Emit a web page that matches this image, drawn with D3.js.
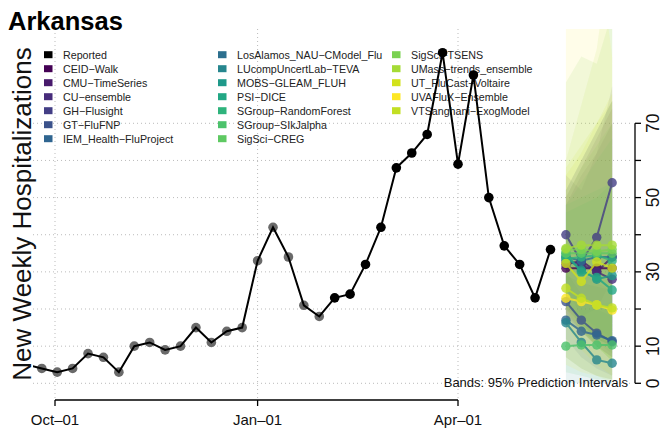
<!DOCTYPE html>
<html>
<head>
  <meta charset="utf-8">
  <title>Arkansas</title>
  <style type="text/css">
	body{
		margin:0;
		background:#fff;
	}
	text{
		font-family:"Liberation Sans", Arial, sans-serif;
	}
  </style>
</head>
<body>
<div id="chartContainer"></div>

<script src="https://d3js.org/d3.v7.min.js"></script>
<script type="text/javascript">
// reported weekly hospitalizations
var weeks = ["2023-09-18","2023-09-25","2023-10-02","2023-10-09","2023-10-16","2023-10-23","2023-10-30",
  "2023-11-06","2023-11-13","2023-11-20","2023-11-27","2023-12-04","2023-12-11","2023-12-18","2023-12-25",
  "2024-01-01","2024-01-08","2024-01-15","2024-01-22","2024-01-29","2024-02-05","2024-02-12","2024-02-19",
  "2024-02-26","2024-03-04","2024-03-11","2024-03-18","2024-03-25","2024-04-01","2024-04-08","2024-04-15",
  "2024-04-22","2024-04-29","2024-05-06","2024-05-13"];
var reported = [5,4,3,4,8,7,3,10,11,9,10,15,11,14,15,33,42,34,21,18,23,24,32,42,58,62,67,89,59,83,50,37,32,23,36];
var oldUntil = "2024-01-29";

// forecasts
var fcWeeks = ["2024-05-20","2024-05-27","2024-06-03","2024-06-10"];
var models = ["CEID\u2212Walk","CMU\u2212TimeSeries","CU\u2212ensemble","GH\u2212Flusight","GT\u2212FluFNP",
  "IEM_Health\u2212FluProject","LosAlamos_NAU\u2212CModel_Flu","LUcompUncertLab\u2212TEVA","MOBS\u2212GLEAM_FLUH",
  "PSI\u2212DICE","SGroup\u2212RandomForest","SGroup\u2212SIkJalpha","SigSci\u2212CREG","SigSci\u2212TSENS",
  "UMass\u2212trends_ensemble","UT_FluCast\u2212Voltaire","UVAFluX\u2212Ensemble","VTSanghani\u2212ExogModel"];
var colors = ["#440154","#481a6c","#472c7b","#433e85","#3b528b","#2f6590","#2c6f8e","#26868e","#1f998a",
  "#22a784","#2eb37c","#4cc26c","#5ec962","#7ad151","#a5db36","#d2e21b","#fde725","#c2df23"];
var median = [
  [31,31,31,31],[32,33,30,34],[33,32,30,28],[40,32.7,39.3,54],[22,17,13.5,11.2],[17,14,13,11.5],
  [34,33,34,34],[16.3,11,6.3,5.4],[34,30.5,28,29],[35,30,28.5,25.1],[33.5,34,34.5,33],[10,10.3,10.3,10.3],
  [35,35,35,35],[36,36,35.5,36],[36.3,37.2,37.2,37.2],[32.3,27.4,32.7,31],[22.9,22,21.1,19.7],[25.6,22.9,21.1,20.3]];
var lower = [
  [18,14,10,7],[20,16,12,10],[19,14,10,7],[26,18,20,28],[12,7,4,2],[7,4,2,1],
  [18,14,11,8],[0,0,0,0],[22,16,12,10],[22,15,10,6],[20,18,15,12],[3,2,1,1],
  [22,16,12,10],[20,14,10,6],[20,14,10,6],[16,9,5,2],[5,3,2,1],[7,4,2,0]];
var upper = [
  [50,58,66,74],[48,56,62,70],[52,60,68,76],[56,52,62,80],[34,30,27,25],[29,27,26,25],
  [52,60,68,76],[30,24,20,18],[46,48,50,54],[48,50,52,54],[48,54,60,66],[18,20,21,22],
  [50,58,64,70],[81,88,86,100],[60,75,90,120],[56,62,70,78],[120,120,120,88],[58,64,70,76]];

var yTicks = [0,10,20,30,40,50,60,70];
var yLabels = [0,10,30,50,70];
var xTicks = ["2023-10-01","2024-01-01","2024-04-01"];
var xLabels = ["Oct\u201301","Jan\u201301","Apr\u201301"];

var parse = d3.timeParse("%Y-%m-%d");
var svg = d3.select("#chartContainer").append("svg").attr("width",663).attr("height",432);

var x = d3.scaleTime().domain([parse("2023-10-01"),parse("2024-04-01")]).range([55,458]);
var y = d3.scaleLinear().domain([0,70]).range([383.3,123.3]);

svg.append("clipPath").attr("id","plotClip")
  .append("rect").attr("x",33).attr("y",29).attr("width",597).attr("height",369);

// grid
var grid = svg.append("g").attr("stroke","#bbb").attr("stroke-width",1).attr("stroke-dasharray","1,3");
grid.selectAll("line.h").data(yTicks).enter().append("line")
  .attr("x1",33).attr("x2",630).attr("y1",function(d){return y(d);}).attr("y2",function(d){return y(d);});
grid.selectAll("line.v").data(xTicks).enter().append("line")
  .attr("x1",function(d){return x(parse(d));}).attr("x2",function(d){return x(parse(d));})
  .attr("y1",29).attr("y2",400);

// legend
var legItems = [{name:"Reported",color:"#000"}].concat(models.map(function(m,i){return {name:m,color:colors[i]};}));
var legX = [44,218,392];
var leg = svg.append("g");
legItems.forEach(function(d,i){
  var col = Math.floor(i/7), row = i%7;
  var g = leg.append("g").attr("transform","translate("+legX[col]+","+(54.7+row*14)+")");
  g.append("rect").attr("x",0).attr("y",-3.5).attr("width",8.5).attr("height",7).attr("fill",d.color);
  g.append("text").attr("x",19).attr("y",3.8).attr("font-size","10.7px").attr("fill","#222").text(d.name);
});

var plot = svg.append("g").attr("clip-path","url(#plotClip)");

// prediction bands
models.forEach(function(m,i){
  var pts = fcWeeks.map(function(w,k){return {d:parse(w),lo:lower[i][k],hi:upper[i][k]};});
  var area = d3.area().x(function(d){return x(d.d);}).y0(function(d){return y(d.lo);}).y1(function(d){return y(d.hi);});
  plot.append("path").datum(pts).attr("d",area).attr("fill",colors[i]).attr("fill-opacity",0.1);
});

// forecast medians
var line = d3.line().x(function(d){return x(d.d);}).y(function(d){return y(d.v);});
models.forEach(function(m,i){
  var pts = fcWeeks.map(function(w,k){return {d:parse(w),v:median[i][k]};});
  var g = plot.append("g").attr("opacity",0.8);
  g.append("path").datum(pts).attr("d",line).attr("fill","none").attr("stroke",colors[i]).attr("stroke-width",2);
  g.selectAll("circle").data(pts).enter().append("circle")
    .attr("cx",function(d){return x(d.d);}).attr("cy",function(d){return y(d.v);}).attr("r",4.7)
    .attr("fill",colors[i]);
});

// reported
var rep = weeks.map(function(w,i){return {d:parse(w),v:reported[i],old:w<=oldUntil};});
plot.selectAll("circle.rep").data(rep).enter().append("circle")
  .attr("cx",function(d){return x(d.d);}).attr("cy",function(d){return y(d.v);}).attr("r",4.8)
  .attr("fill",function(d){return d.old ? "#6a6a6a" : "#000";});
plot.append("path").datum(rep).attr("d",line).attr("fill","none").attr("stroke","#000").attr("stroke-width",2);

// x axis
var xa = svg.append("g").attr("stroke","#000").attr("stroke-width",1.3);
xa.append("line").attr("x1",x(parse(xTicks[0]))).attr("x2",x(parse(xTicks[2]))).attr("y1",400).attr("y2",400);
xa.selectAll("line.t").data(xTicks).enter().append("line")
  .attr("x1",function(d){return x(parse(d));}).attr("x2",function(d){return x(parse(d));})
  .attr("y1",400).attr("y2",406);
svg.selectAll("text.xl").data(xTicks).enter().append("text")
  .attr("x",function(d){return x(parse(d));}).attr("y",425).attr("text-anchor","middle")
  .attr("font-size","15px").attr("fill","#111").text(function(d,i){return xLabels[i];});

// y axis (right)
var ya = svg.append("g").attr("stroke","#000").attr("stroke-width",1.3);
ya.append("line").attr("x1",635).attr("x2",635).attr("y1",y(0)).attr("y2",y(70));
ya.selectAll("line.t").data(yTicks).enter().append("line")
  .attr("x1",635).attr("x2",641).attr("y1",function(d){return y(d);}).attr("y2",function(d){return y(d);});
svg.selectAll("text.yl").data(yLabels).enter().append("text")
  .attr("transform",function(d){return "translate(659,"+y(d)+") rotate(-90)";})
  .attr("text-anchor","middle").attr("font-size","17.5px").attr("fill","#111").text(function(d){return d;});

// texts
svg.append("text").attr("x",628).attr("y",386.5).attr("text-anchor","end")
  .attr("font-size","13px").attr("fill","#111").text("Bands: 95% Prediction Intervals");
svg.append("text").attr("x",8).attr("y",30).attr("font-size","25.5px").attr("font-weight","bold")
  .attr("fill","#000").text("Arkansas");
svg.append("text").attr("transform","translate(31,214) rotate(-90)").attr("text-anchor","middle")
  .attr("font-size","26px").attr("fill","#111").text("New Weekly Hospitalizations");
</script>
</body>
</html>
